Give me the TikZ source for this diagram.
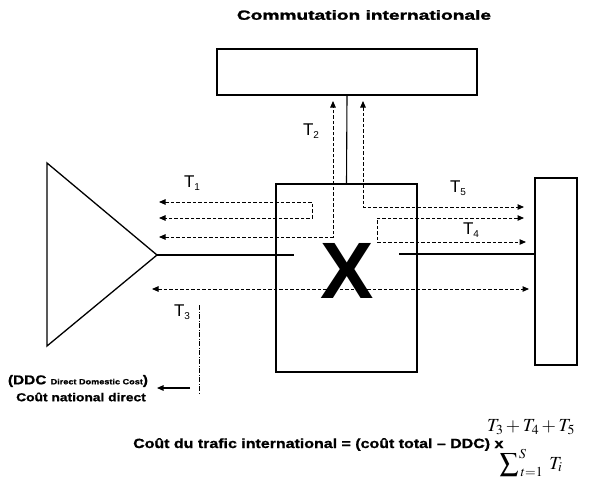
\documentclass[tikz,border=0pt]{standalone}
\usepackage{amsmath}
\usepackage{mathptmx}
\usepackage[no-math]{fontspec}
\setmainfont{Liberation Sans}
\newfontfamily\titlefont[FakeStretch=1.45,FakeBold=2]{Liberation Sans Bold}
\newfontfamily\heavyfont[FakeStretch=1.2,FakeBold=1]{Liberation Sans Bold}
\usetikzlibrary{arrows.meta}
\begin{document}
\begin{tikzpicture}[x=1pt,y=-1pt,
  box/.style={draw,line width=1.3pt,inner sep=0pt},
  solidline/.style={line width=1.1pt},
  dashline/.style={line width=1pt,dash pattern=on 3.5pt off 2pt,{Triangle[length=6.5pt,width=5.5pt]}-{Triangle[length=6.5pt,width=5.5pt]}},
  lbl/.style={font=\fontsize{17}{17}\selectfont,inner sep=0pt},
  mathtxt/.style={inner sep=0pt,font=\fontsize{18.5}{20}\selectfont}]
\useasboundingbox (0,0) rectangle (596,482);
% title
\node (title) at (364,15) {\titlefont\fontsize{13.2}{14}\selectfont Commutation internationale};
% boxes
\node[box,minimum width=260pt,minimum height=46pt] (top) at (347,72) {};
\node[box,minimum width=141pt,minimum height=188pt] (sw) at (346.5,278) {};
\node[box,minimum width=42pt,minimum height=187pt] (rb) at (556,271.5) {};
% triangle
\coordinate (tA) at (47,163);
\coordinate (apex) at (157,255);
\coordinate (tB) at (47,346);
\draw[line width=1.3pt] (tA) -- (apex) -- (tB) -- cycle;
% solid lines
\coordinate (lend) at (294,255);
\coordinate (rstart) at (399,254);
\draw[solidline] (apex) -- (lend);
\draw[solidline] (rstart) -- (rb.west |- rstart);
\draw[solidline] (top.south) -- (sw.north);
% big X
\node[font=\fontsize{80}{80}\selectfont\bfseries,inner sep=0pt] (X) at (347,271) {X};
% T1 loop
\coordinate (a1) at (159,202);
\coordinate (a2) at (312,202);
\coordinate (a3) at (312,218);
\coordinate (a4) at (159,218);
\draw[dashline] (a1) -- (a2) -- (a3) -- (a4);
% T2
\coordinate (b1) at (159,237);
\coordinate (b2) at (333,237);
\coordinate (b3) at (333,101);
\draw[dashline] (b1) -- (b2) -- (b3);
% T5
\coordinate (c1) at (363,101);
\coordinate (c2) at (363,207);
\coordinate (c3) at (524,207);
\draw[dashline] (c1) -- (c2) -- (c3);
% T4 loop
\coordinate (d1) at (524,218);
\coordinate (d2) at (377,218);
\coordinate (d3) at (377,242);
\coordinate (d4) at (526,242);
\draw[dashline] (d1) -- (d2) -- (d3) -- (d4);
% bottom
\coordinate (e1) at (152,289);
\coordinate (e2) at (529,289);
\draw[dashline] (e1) -- (e2);
% T3 dash-dot
\coordinate (f1) at (199,305);
\coordinate (f2) at (199,393);
\draw[line width=1pt,dash pattern=on 5pt off 1.5pt on 1pt off 1.5pt] (f1) -- (f2);
\coordinate (g1) at (190,388);
\coordinate (g2) at (157,388);
\draw[line width=1.1pt,-{Triangle[length=6.5pt,width=5.5pt]}] (g1) -- (g2);
% labels
\node[lbl] (T1) at (192,183) {T\raisebox{-0.35ex}{\fontsize{10}{10}\selectfont 1}};
\node[lbl] (T2) at (311,131) {T\raisebox{-0.35ex}{\fontsize{10}{10}\selectfont 2}};
\node[lbl] (T5) at (458,188) {T\raisebox{-0.35ex}{\fontsize{10}{10}\selectfont 5}};
\node[lbl] (T4) at (471,230) {T\raisebox{-0.35ex}{\fontsize{10}{10}\selectfont 4}};
\node[lbl] (T3) at (182,312) {T\raisebox{-0.35ex}{\fontsize{10}{10}\selectfont 3}};
% DDC
\node[inner sep=0pt] (ddc1) at (78,381) {\heavyfont\fontsize{12.8}{14}\selectfont (DDC {\fontsize{7.6}{8}\selectfont Direct Domestic Cost})};
\node[inner sep=0pt] (ddc2) at (81,397) {\heavyfont\fontsize{11.5}{13}\selectfont Coût national direct};
% formula
\node[inner sep=0pt,anchor=base west] (formula) at (133,448) {\heavyfont\fontsize{13.3}{15}\selectfont Coût du trafic international = (coût total – DDC) x};
\node[mathtxt] (num) at (531,427) {\medmuskip=2.5mu $T_3+T_4+T_5$};
\node[mathtxt] (den) at (531,463) {$\displaystyle\sum\nolimits_{\mkern3mu t=1}^{\mkern1mu S}\;T_i$};
\end{tikzpicture}
\end{document}
